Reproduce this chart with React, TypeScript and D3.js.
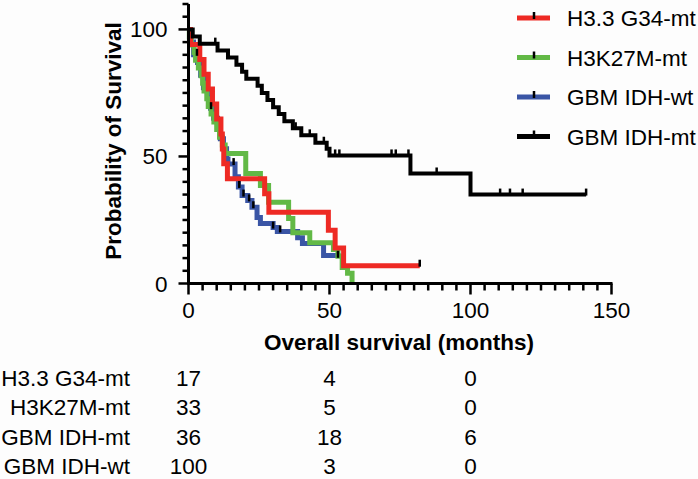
import { useEffect, useRef } from 'react';
import * as d3 from 'd3';

// Kaplan-Meier steps: [time (months), survival %]
const g34Steps: [number, number][] = [
  [0, 100], [0.7, 94.1], [4, 88.2], [5.5, 82.4], [7, 76.5], [8.5, 70.6], [10, 64.7],
  [11.5, 58.8], [12, 52.9], [12.5, 47.1], [13.8, 41.2], [27, 35.3], [28.5, 28],
  [49.6, 21], [52, 14], [55, 7], [82, 7],
];
const g34Censor = [82];

const k27Steps: [number, number][] = [
  [0, 100], [0.3, 97], [1, 93.9], [2, 90.9], [2.5, 87.9], [3.5, 84.8], [4.5, 81.8],
  [5, 78.8], [5.5, 75.8], [6.5, 72.7], [7, 69.7], [8, 66.7], [9, 63.6], [10, 60.6],
  [11, 57.6], [12, 54.5], [13, 51.2], [20.3, 43.3], [25.5, 38.6], [28.4, 32],
  [35.5, 25.6], [37, 20], [43, 16], [51.4, 13.4], [53, 10.7], [54.5, 6.3],
  [56.4, 4], [58, 0],
];
const k27Censor: number[] = [];

const wtSteps: [number, number][] = [
  [0, 100], [0.7, 95], [1.8, 90], [3.2, 87], [4.3, 82], [5.3, 77], [6.7, 73],
  [7.8, 69], [8.9, 65], [10.3, 61], [11.3, 57], [12.4, 53], [13.5, 49], [14, 47],
  [16.5, 42], [17.7, 38], [19, 34.6], [21, 32.7], [22.5, 30], [24.3, 26],
  [25.5, 23.6], [30, 22], [31.5, 20.5], [38.7, 18], [40.4, 15.7], [47.9, 11],
  [53, 10.5],
];
const wtCensor = [3, 8, 16, 18, 19.5, 21.5, 23, 30, 32.5, 53];

const mtSteps: [number, number][] = [
  [0, 100], [1.5, 97.2], [4, 94.4], [10.3, 91.7], [14, 88.9], [17, 86.1], [19, 83.3],
  [20.5, 80.6], [24.5, 77.8], [26, 75], [28, 72.2], [30, 69.4], [32, 66.7],
  [34, 63.9], [37, 61.1], [40, 58.3], [45, 55.4], [49, 53], [50, 50.4],
  [78.7, 43.3], [100, 35], [141, 35],
];
const mtCensor = [9.5, 38, 43, 48, 52, 53.5, 72, 73.5, 78, 88, 110.5, 114, 118.5, 141];

const groups = ['H3.3 G34-mt', 'H3K27M-mt', 'GBM IDH-wt', 'GBM IDH-mt'];
const colors = ['#ee2a24', '#62b946', '#3a55a5', '#000000'];

const riskRows = ['H3.3 G34-mt', 'H3K27M-mt', 'GBM IDH-mt', 'GBM IDH-wt'];
const riskTimes = [0, 50, 100];
const riskCounts = [
  [17, 4, 0],
  [33, 5, 0],
  [36, 18, 6],
  [100, 3, 0],
];

const xTicks = [0, 50, 100, 150];
const yTicks = [0, 50, 100];

const font = '"Liberation Sans", Arial, sans-serif';
const fs = '22.5px';

export default function App() {
  const svgRef = useRef<SVGSVGElement>(null);

  useEffect(() => {
    if (!svgRef.current) return;
    const width = 698;
    const height = 479;
    const svg = d3.select(svgRef.current);
    svg.selectAll('*').remove();
    svg.attr('width', width).attr('height', height);

    const x = d3.scaleLinear().domain([0, 150]).range([188.5, 611.5]);
    const y = d3.scaleLinear().domain([0, 110]).range([283.5, 4]);

    const series = [
      { steps: g34Steps, censor: g34Censor, color: colors[0], w: 5 },
      { steps: k27Steps, censor: k27Censor, color: colors[1], w: 5 },
      { steps: wtSteps, censor: wtCensor, color: colors[2], w: 5 },
      { steps: mtSteps, censor: mtCensor, color: colors[3], w: 4 },
    ];
    // draw order: blue, green, red, black
    const order = [2, 1, 0, 3];

    const line = d3
      .line<[number, number]>()
      .x((d) => x(d[0]))
      .y((d) => y(d[1]))
      .curve(d3.curveStepAfter);

    const valueAt = (steps: [number, number][], t: number) => {
      let v = steps[0][1];
      for (const s of steps) if (s[0] <= t) v = s[1];
      return v;
    };

    order.forEach((i) => {
      const s = series[i];
      svg
        .append('path')
        .attr('d', line(s.steps))
        .attr('fill', 'none')
        .attr('stroke', s.color)
        .attr('stroke-width', s.w)
        .attr('stroke-linejoin', 'miter')
        .attr('stroke-linecap', 'butt');
    });

    // censor ticks (black)
    order.forEach((i) => {
      const s = series[i];
      svg
        .append('g')
        .selectAll('line')
        .data(s.censor)
        .enter()
        .append('line')
        .attr('x1', (t) => x(t))
        .attr('x2', (t) => x(t))
        .attr('y1', (t) => y(valueAt(s.steps, t)) - 6)
        .attr('y2', (t) => y(valueAt(s.steps, t)) + 1)
        .attr('stroke', '#000')
        .attr('stroke-width', 2.5);
    });

    // y axis
    const yAxis = svg.append('g').attr('transform', `translate(${x(0)},0)`);
    yAxis
      .append('line')
      .attr('y1', y(0) + 1.5)
      .attr('y2', y(110))
      .attr('stroke', '#000')
      .attr('stroke-width', 3);
    yAxis
      .selectAll('.ytick')
      .data(d3.range(0, 111, 5))
      .enter()
      .append('line')
      .attr('x1', (d) => (d % 50 === 0 ? -10 : -6))
      .attr('x2', 0)
      .attr('y1', (d) => y(d))
      .attr('y2', (d) => y(d))
      .attr('stroke', '#000')
      .attr('stroke-width', 2.5);
    yAxis
      .selectAll('.ylab')
      .data(yTicks)
      .enter()
      .append('text')
      .attr('x', -21)
      .attr('y', (d) => y(d) + 8)
      .attr('text-anchor', 'end')
      .style('font-family', font)
      .style('font-size', fs)
      .text((d) => d);

    // x axis
    const xAxis = svg.append('g').attr('transform', `translate(0,${y(0)})`);
    xAxis
      .append('line')
      .attr('x1', x(0) - 1.5)
      .attr('x2', x(150) + 1)
      .attr('stroke', '#000')
      .attr('stroke-width', 3);
    xAxis
      .selectAll('.xtick')
      .data(d3.range(0, 151, 5))
      .enter()
      .append('line')
      .attr('x1', (d) => x(d))
      .attr('x2', (d) => x(d))
      .attr('y1', 0)
      .attr('y2', (d) => (d % 50 === 0 ? 11 : 7))
      .attr('stroke', '#000')
      .attr('stroke-width', 2.5);
    xAxis
      .selectAll('.xlab')
      .data(xTicks)
      .enter()
      .append('text')
      .attr('x', (d) => x(d))
      .attr('y', 34)
      .attr('text-anchor', 'middle')
      .style('font-family', font)
      .style('font-size', fs)
      .text((d) => d);

    // axis titles
    svg
      .append('text')
      .attr('x', 399)
      .attr('y', 350)
      .attr('text-anchor', 'middle')
      .style('font-family', font)
      .style('font-size', fs)
      .style('font-weight', 'bold')
      .text('Overall survival (months)');
    svg
      .append('text')
      .attr('transform', 'translate(121,141) rotate(-90)')
      .attr('text-anchor', 'middle')
      .style('font-family', font)
      .style('font-size', fs)
      .style('font-weight', 'bold')
      .text('Probability of Survival');

    // legend
    const legend = svg.append('g');
    groups.forEach((g, i) => {
      const ly = 18 + i * 39.5;
      legend
        .append('line')
        .attr('x1', 517)
        .attr('x2', 550)
        .attr('y1', ly)
        .attr('y2', ly)
        .attr('stroke', colors[i])
        .attr('stroke-width', 5);
      legend
        .append('line')
        .attr('x1', 534)
        .attr('x2', 534)
        .attr('y1', ly - 6)
        .attr('y2', ly + 1)
        .attr('stroke', '#000')
        .attr('stroke-width', 2.5);
      legend
        .append('text')
        .attr('x', 567)
        .attr('y', ly + 8)
        .style('font-family', font)
        .style('font-size', fs)
        .text(g);
    });

    // number at risk table
    const table = svg.append('g');
    riskRows.forEach((r, i) => {
      const ry = 386 + i * 29.3;
      table
        .append('text')
        .attr('x', 130)
        .attr('y', ry)
        .attr('text-anchor', 'end')
        .style('font-family', font)
        .style('font-size', fs)
        .text(r);
      riskTimes.forEach((t, j) => {
        table
          .append('text')
          .attr('x', x(t))
          .attr('y', ry)
          .attr('text-anchor', 'middle')
          .style('font-family', font)
          .style('font-size', fs)
          .text(riskCounts[i][j]);
      });
    });
  }, []);

  return (
    <div style={{ position: 'fixed', left: 0, top: 0, width: 698, height: 479, background: '#fdfdfd' }}>
      <svg ref={svgRef} style={{ display: 'block' }} />
    </div>
  );
}
